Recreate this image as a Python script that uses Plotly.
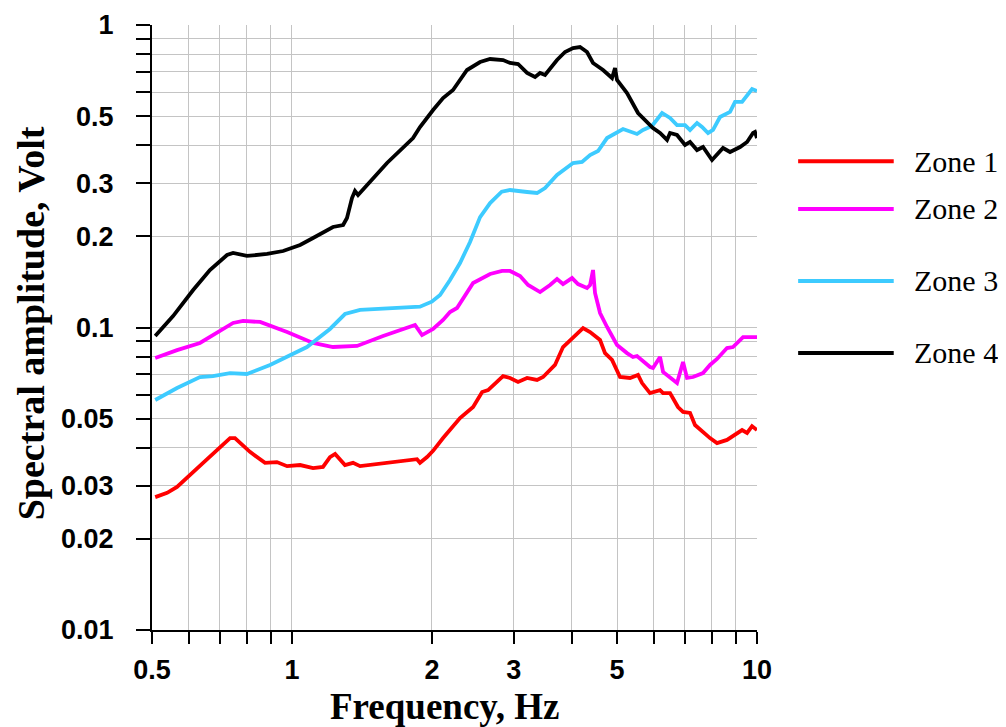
import plotly.graph_objects as go

# ---- data (frequency in Hz, amplitude in Volt) ----
z1_f = [0.508, 0.539, 0.566, 0.598, 0.644, 0.736, 0.754, 0.812, 0.875, 0.928, 0.976, 1.041, 1.110, 1.166,
        1.207, 1.238, 1.300, 1.353, 1.401, 1.857, 1.885, 1.952, 2.011, 2.113, 2.298, 2.452, 2.564, 2.641,
        2.760, 2.844, 2.944, 3.063, 3.203, 3.365, 3.467, 3.678, 3.827, 4.022, 4.226, 4.375, 4.597, 4.712,
        4.878, 5.075, 5.333, 5.548, 5.660, 5.888, 6.187, 6.281, 6.501, 6.762, 6.934, 7.178, 7.357, 7.924,
        8.204, 8.620, 8.880, 9.287, 9.520, 9.758, 10.0]
z1_v = [0.0275, 0.0284, 0.0297, 0.0320, 0.0357, 0.0431, 0.0431, 0.0388, 0.0357, 0.0359, 0.0348, 0.0351,
        0.0343, 0.0346, 0.0373, 0.0382, 0.0351, 0.0357, 0.0348, 0.0367, 0.0357, 0.0373, 0.0391, 0.0431,
        0.0502, 0.0546, 0.0612, 0.0621, 0.0661, 0.0691, 0.0681, 0.0661, 0.0681, 0.0671, 0.0686, 0.0752,
        0.0862, 0.0930, 0.0996, 0.0966, 0.0909, 0.0823, 0.0781, 0.0686, 0.0681, 0.0697, 0.0655, 0.0607,
        0.0621, 0.0607, 0.0607, 0.0546, 0.0526, 0.0522, 0.0476, 0.0431, 0.0415, 0.0425, 0.0438, 0.0458,
        0.0448, 0.0472, 0.0458]

z2_f = [0.508, 0.566, 0.634, 0.666, 0.747, 0.785, 0.854, 0.976, 1.110, 1.225, 1.380, 1.570, 1.839, 1.904,
        2.011, 2.113, 2.187, 2.264, 2.452, 2.667, 2.830, 2.944, 3.094, 3.219, 3.416, 3.589, 3.715, 3.827,
        4.002, 4.122, 4.310, 4.375, 4.440, 4.484, 4.597, 4.759, 5.000, 5.254, 5.411, 5.520, 5.888, 5.975,
        6.187, 6.281, 6.501, 6.730, 6.934, 7.072, 7.285, 7.655, 7.924, 8.204, 8.620, 8.880, 9.333, 10.0]
z2_v = [0.0793, 0.0842, 0.0889, 0.0930, 0.1035, 0.1051, 0.1043, 0.0966, 0.0889, 0.0862, 0.0869, 0.0937,
        0.1019, 0.0944, 0.0989, 0.1059, 0.1125, 0.1160, 0.1403, 0.1503, 0.1538, 0.1538, 0.1480, 0.1382,
        0.1310, 0.1382, 0.1446, 0.1392, 0.1457, 0.1392, 0.1351, 0.1382, 0.1549, 0.1300, 0.1116, 0.1004,
        0.0875, 0.0823, 0.0799, 0.0805, 0.0740, 0.0735, 0.0799, 0.0713, 0.0686, 0.0655, 0.0769, 0.0681,
        0.0686, 0.0707, 0.0752, 0.0787, 0.0855, 0.0862, 0.0930, 0.0930]

z3_f = [0.508, 0.566, 0.634, 0.676, 0.736, 0.800, 0.897, 0.990, 1.077, 1.207, 1.300, 1.401, 1.625, 1.885,
        1.998, 2.082, 2.187, 2.298, 2.415, 2.538, 2.667, 2.825, 2.944, 3.094, 3.203, 3.365, 3.501, 3.715,
        4.022, 4.205, 4.375, 4.552, 4.759, 5.151, 5.333, 5.520, 5.687, 5.946, 6.250, 6.501, 6.730, 7.003,
        7.178, 7.430, 7.617, 7.847, 8.043, 8.326, 8.750, 8.970, 9.287, 9.758, 10.0]
z3_v = [0.0576, 0.0631, 0.0686, 0.0691, 0.0707, 0.0702, 0.0752, 0.0811, 0.0862, 0.0989, 0.1108, 0.1143,
        0.1160, 0.1172, 0.1217, 0.1281, 0.1436, 0.1634, 0.1917, 0.2318, 0.2579, 0.2812, 0.2848, 0.2812,
        0.2805, 0.2784, 0.2892, 0.3192, 0.3498, 0.3525, 0.3716, 0.3832, 0.4229, 0.4531, 0.4429, 0.4362,
        0.4497, 0.4636, 0.5118, 0.4927, 0.4670, 0.4670, 0.4497, 0.4743, 0.4601, 0.4395, 0.4497, 0.4965,
        0.5160, 0.5566, 0.5566, 0.6144, 0.6048]

z4_f = [0.508, 0.555, 0.613, 0.666, 0.725, 0.747, 0.800, 0.884, 0.957, 1.041, 1.110, 1.166, 1.225, 1.288,
        1.313, 1.346, 1.366, 1.387, 1.450, 1.601, 1.821, 1.885, 2.011, 2.113, 2.220, 2.379, 2.538, 2.667,
        2.844, 2.944, 3.063, 3.203, 3.332, 3.416, 3.501, 3.715, 3.865, 4.022, 4.163, 4.310, 4.440, 4.666,
        4.878, 4.951, 5.000, 5.254, 5.548, 5.801, 5.975, 6.187, 6.405, 6.501, 6.730, 7.003, 7.178, 7.430,
        7.655, 8.003, 8.204, 8.452, 8.750, 9.195, 9.520, 9.807, 9.900, 10.0]
z4_v = [0.0937, 0.1091, 0.1330, 0.1549, 0.1737, 0.1763, 0.1724, 0.1750, 0.1790, 0.1874, 0.1976, 0.2053,
        0.2149, 0.2182, 0.2301, 0.2680, 0.2827, 0.2742, 0.2960, 0.3498, 0.4229, 0.4601, 0.5236, 0.5737,
        0.6096, 0.7098, 0.7545, 0.7720, 0.7661, 0.7488, 0.7431, 0.6941, 0.6733, 0.6941, 0.6837, 0.7661,
        0.8143, 0.8392, 0.8457, 0.8143, 0.7488, 0.7098, 0.6681, 0.7207, 0.6580, 0.5958, 0.5118, 0.4778,
        0.4565, 0.4395, 0.4168, 0.4395, 0.4329, 0.4012, 0.4105, 0.3861, 0.3951, 0.3578, 0.3716, 0.3921,
        0.3803, 0.3951, 0.4105, 0.4395, 0.4429, 0.4229]

zone_names = ["Zone 1", "Zone 2", "Zone 3", "Zone 4"]
zone_colors = ["#ff0000", "#ff00ff", "#3dcbff", "#000000"]

x_tickvals = [0.5, 0.6, 0.7, 0.8, 0.9, 1, 2, 3, 4, 5, 6, 7, 8, 9, 10]
x_ticktext = ["0.5", "", "", "", "", "1", "2", "3", "", "5", "", "", "", "", "10"]
y_tickvals = [0.01, 0.02, 0.03, 0.04, 0.05, 0.06, 0.07, 0.08, 0.09, 0.1,
              0.2, 0.3, 0.4, 0.5, 0.6, 0.7, 0.8, 0.9, 1]
y_ticktext = ["0.01", "0.02", "0.03", "", "0.05", "", "", "", "", "0.1",
              "0.2", "0.3", "", "0.5", "", "", "", "", "1"]
x_title = "Frequency, Hz"
y_title = "Spectral amplitude, Volt"

series = [(z1_f, z1_v), (z2_f, z2_v), (z3_f, z3_v), (z4_f, z4_v)]

fig = go.Figure()
for (f, v), name, col in zip(series, zone_names, zone_colors):
    fig.add_trace(go.Scatter(x=f, y=v, mode="lines", name=name,
                             line=dict(color=col, width=3.8), showlegend=False))

# manual legend (irregular spacing as in the reference)
legend_y = [0.775, 0.696, 0.577, 0.458]
for name, col, ly in zip(zone_names, zone_colors, legend_y):
    fig.add_shape(type="line", xref="paper", yref="paper", x0=1.068, x1=1.226, y0=ly, y1=ly,
                  line=dict(color=col, width=4))
    fig.add_annotation(xref="paper", yref="paper", x=1.257, y=ly, text=name, showarrow=False,
                       xanchor="left", yanchor="middle",
                       font=dict(family="Liberation Serif, Times New Roman", size=30, color="black"))

tickfont = dict(family="Liberation Sans, Arial", size=27, color="black", weight="bold")
titlefont = dict(family="Liberation Serif, Times New Roman", size=37, color="black", weight="bold")

# axis titles placed as annotations for exact positioning
fig.add_annotation(xref="paper", yref="paper", x=0.484, y=-0.1258, text=x_title, showarrow=False,
                   xanchor="center", yanchor="middle", font=titlefont)
fig.add_annotation(xref="paper", yref="paper", x=-0.2, y=0.507, text=y_title, showarrow=False,
                   textangle=-90, xanchor="center", yanchor="middle",
                   font=dict(family="Liberation Serif, Times New Roman", size=38, color="black", weight="bold"))

fig.update_xaxes(type="log", range=[-0.30103, 1], tickvals=x_tickvals, ticktext=x_ticktext,
                 ticks="outside", ticklen=12, tickwidth=2, tickcolor="black", ticklabelstandoff=3,
                 showline=True, linecolor="black", linewidth=2,
                 showgrid=True, gridcolor="#c4c4c4", gridwidth=1, zeroline=False,
                 tickfont=tickfont)
fig.update_yaxes(type="log", range=[-2, 0], tickvals=y_tickvals, ticktext=y_ticktext,
                 ticks="outside", ticklen=14, tickwidth=2, tickcolor="black", ticklabelstandoff=17,
                 showline=True, linecolor="black", linewidth=2,
                 showgrid=True, gridcolor="#c4c4c4", gridwidth=1, zeroline=False,
                 tickfont=tickfont)

# the page body has an 8px margin; the figure is sized/offset so the plot area lands where it is in the reference
fig.update_layout(width=998, height=719, margin=dict(l=144, r=249, t=17, b=97, autoexpand=False),
                  plot_bgcolor="white", paper_bgcolor="white", showlegend=False)

fig.write_html("out.html")
